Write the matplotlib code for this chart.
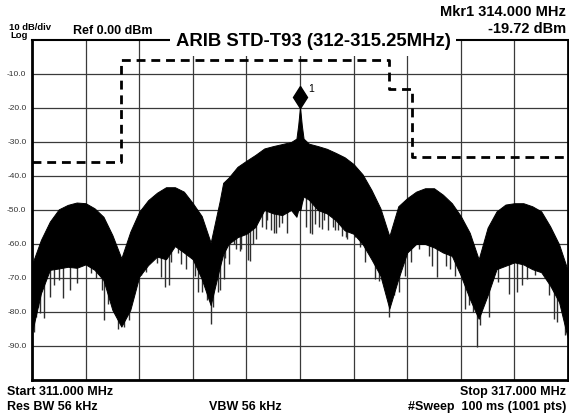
import numpy as np
import matplotlib.pyplot as plt
from matplotlib import transforms

plt.rcParams['font.family'] = ['Liberation Sans', 'DejaVu Sans']

# ---- trace (MHz / dBm) ----
freq = [311.0, 311.1, 311.2, 311.3, 311.4, 311.5, 311.6, 311.7, 311.8, 311.9,
        312.0, 312.1, 312.2, 312.3, 312.4, 312.5, 312.6, 312.7, 312.8, 312.9,
        313.0, 313.1, 313.14, 313.2, 313.3, 313.4, 313.5, 313.6, 313.7, 313.8, 313.9,
        313.96, 313.98, 313.995, 314.0, 314.005, 314.02, 314.04,
        314.1, 314.2, 314.3, 314.4, 314.5, 314.6, 314.7, 314.8, 314.9,
        315.0, 315.1, 315.2, 315.3, 315.4, 315.5, 315.6, 315.7, 315.8, 315.9,
        316.0, 316.1, 316.2, 316.3, 316.4, 316.5, 316.6, 316.7, 316.8, 316.9,
        317.0]
trace_top = [-66, -58.8, -53.4, -49.8, -48.5, -47.8, -48.0, -49.5, -52.0, -57.4,
             -64.2, -56.4, -50.5, -47.1, -44.9, -43.3, -43.3, -44.6, -48.0, -51.8,
             -59.6, -47.5, -42.0, -40.5, -37.3, -35.5, -33.8, -31.9, -31.2, -30.6, -30.0,
             -29, -25, -21, -19.72, -21, -25, -29,
             -30.5, -31.2, -32.0, -33.2, -34.5, -36.5, -39.5, -44.1, -49.5,
             -57.7, -48.9, -46.5, -44.6, -43.6, -43.6, -45.5, -48.0, -51.8, -56.7,
             -64.5, -55.2, -50.4, -48.4, -48.0, -48.0, -48.9, -50.4, -54.8, -60.1,
             -68]
trace_bottom = [-86, -74.5, -67.6, -67.2, -66.7, -67, -66, -67.6, -70.6, -79.4,
                -84.3, -79.4, -69.6, -66.2, -63.7, -64.5, -60.6, -62.5, -64.5, -70.3,
                -78, -67, -63, -60, -58, -57, -55, -50, -51, -51.5, -50,
                -52, -50, -50, -28, -50, -48, -46,
                -47, -50, -51, -53, -56, -57, -60, -64.5, -69.3,
                -79, -70.3, -62.5, -60, -60, -61, -62.5, -63.5, -69.3, -76.1,
                -82, -75.1, -67.4, -66.4, -65.4, -66, -67.4, -68.3, -72.2, -77.1,
                -88]

# narrow downward spikes below the solid body of the trace
spike_freq = [311.02, 311.04, 311.07, 311.09, 311.13, 311.2, 311.25, 311.3, 311.35, 311.43,
              311.5, 311.66, 311.72, 311.78, 311.81, 311.85, 311.96, 312.03, 312.09, 312.16,
              312.22, 312.28, 312.4, 312.44, 312.49, 312.53, 312.56, 312.63, 312.67, 312.72,
              312.82, 312.86, 312.9, 312.96, 313.0, 313.03, 313.08, 313.11, 313.15, 313.16,
              313.2, 313.26, 313.28, 313.33, 313.34, 313.42, 313.44, 313.47, 313.51, 313.58,
              313.62, 313.63, 313.68, 313.71, 313.73, 313.77, 313.8, 313.86, 314.07, 314.11,
              314.13, 314.17, 314.21, 314.25, 314.27, 314.31, 314.37, 314.39, 314.42, 314.47,
              314.52, 314.53, 314.62, 314.67, 314.68, 314.73, 314.8, 314.84, 314.88, 314.96,
              315.0, 315.05, 315.11, 315.18, 315.24, 315.33, 315.44, 315.48, 315.53, 315.63,
              315.68, 315.73, 315.85, 315.89, 315.94, 315.98, 316.01, 316.07, 316.12, 316.22,
              316.34, 316.43, 316.48, 316.54, 316.63, 316.79, 316.84, 316.88, 316.97, 317.0]
spike_low = [-85.8, -81.4, -78.4, -80.3, -81.9, -75.5, -72, -70.5, -76, -73.5,
             -71.6, -68.5, -70, -73.5, -82.4, -77.5, -85, -84.5, -82.4, -70.6,
             -69, -68.1, -65.7, -69.6, -72.5, -72.2, -65.4, -62.5, -66, -67.4,
             -69.3, -74.2, -74.2, -76.6, -83.4, -78.5, -74.2, -73.5, -70.3, -64,
             -66, -60, -61.5, -62, -61.6, -64.7, -65, -60, -58.6, -55,
             -55.5, -52.8, -56, -56.7, -56.9, -55, -53.8, -56.9, -54.9, -56.9,
             -57.2, -54, -55, -55.5, -53, -55.9, -55, -56, -55.9, -57.7,
             -57.8, -58.5, -58, -60.8, -59.6, -65.4, -63.7, -70.3, -71, -73.2,
             -81.5, -75, -74.2, -69.3, -65.4, -61.6, -63.5, -66.4, -69.8, -66.4,
             -67.4, -69.3, -79, -78, -80, -90.2, -83.9, -76.1, -81.5, -71.3,
             -74.7, -74.2, -72, -70.3, -69, -75.1, -82, -82.9, -86.8, -92.6]

# limit mask (dashed)
limit_freq = [311.0, 312.0, 312.0, 315.0, 315.0, 315.25, 315.25, 317.0]
limit_level = [-36, -36, -6, -6, -14.4, -14.4, -34.5, -34.5]

mkr_freq = 314.0
mkr_level = -19.72

ytick_vals = [-10, -20, -30, -40, -50, -60, -70, -80, -90]
ytick_labels = ['-10.0', '-20.0', '-30.0', '-40.0', '-50.0', '-60.0', '-70.0', '-80.0', '-90.0']

W, H = 569, 417


def fx(px):
    return px / W


def fy(py):
    return 1 - py / H


fig = plt.figure(figsize=(W / 100, H / 100), dpi=100)
ax = fig.add_axes([fx(32), 37 / H, 536 / W, 340 / H])
ax.set_xlim(311, 317)
ax.set_ylim(-100, 0)
ax.set_xticks(np.linspace(311, 317, 11))
ax.set_xticklabels([])
ax.set_yticks(ytick_vals)
ax.set_yticklabels(ytick_labels, fontsize=6, color='#333333')
ax.tick_params(length=0, pad=4)
ax.grid(True, color='#3a3a3a', lw=0.9)
ax.set_axisbelow(True)
for side in ['left', 'bottom', 'right']:
    ax.spines[side].set_linewidth(2)
ax.spines['top'].set_linewidth(1.5)

# trace
ax.fill_between(freq, trace_bottom, trace_top, color='black', lw=0.7, zorder=3)
ax.vlines(spike_freq, spike_low, np.array(spike_low) + 14, color='#2e2e2e', lw=1.0, zorder=2.9)

# limit line
ax.plot(limit_freq, limit_level, color='black', lw=2, ls=(0, (3.2, 2.1)), zorder=4)

# marker
off = transforms.ScaledTranslation(0, 7 / 72, fig.dpi_scale_trans)
ax.plot(mkr_freq, mkr_level, marker='d', ms=11.5, color='black',
        transform=ax.transData + off, zorder=5, clip_on=False)
ax.annotate('1', (mkr_freq, mkr_level), xytext=(6, 13), textcoords='offset points',
            fontsize=7.5, va='center', ha='left')

# header texts
fig.text(fx(313), fy(41.5), 'ARIB STD-T93 (312-315.25MHz)', ha='center', va='center',
         fontsize=13.3, weight='bold',
         bbox=dict(fc='white', ec='none', pad=4))
fig.text(fx(9), fy(30.5), '10 dB/div', fontsize=6.8, weight='bold', va='baseline')
fig.text(fx(10), fy(31.5), 'Log', fontsize=6.8, weight='bold', va='top')
fig.text(fx(73), fy(33.5), 'Ref 0.00 dBm', fontsize=9, weight='bold', va='baseline')
fig.text(fx(566), fy(16.5), 'Mkr1 314.000 MHz', fontsize=10.5, weight='bold',
         ha='right', va='baseline')
fig.text(fx(566), fy(33), '-19.72 dBm', fontsize=10.5, weight='bold',
         ha='right', va='baseline')

# footer texts
fig.text(fx(7), fy(395), 'Start 311.000 MHz', fontsize=9, weight='bold', va='baseline')
fig.text(fx(7), fy(410), 'Res BW 56 kHz', fontsize=9, weight='bold', va='baseline')
fig.text(fx(209), fy(410), 'VBW 56 kHz', fontsize=9, weight='bold', va='baseline')
fig.text(fx(566), fy(395), 'Stop 317.000 MHz', fontsize=9, weight='bold',
         ha='right', va='baseline')
fig.text(fx(566), fy(410), '#Sweep  100 ms (1001 pts)', fontsize=9, weight='bold',
         ha='right', va='baseline')

fig.savefig('out.png', dpi=100)
